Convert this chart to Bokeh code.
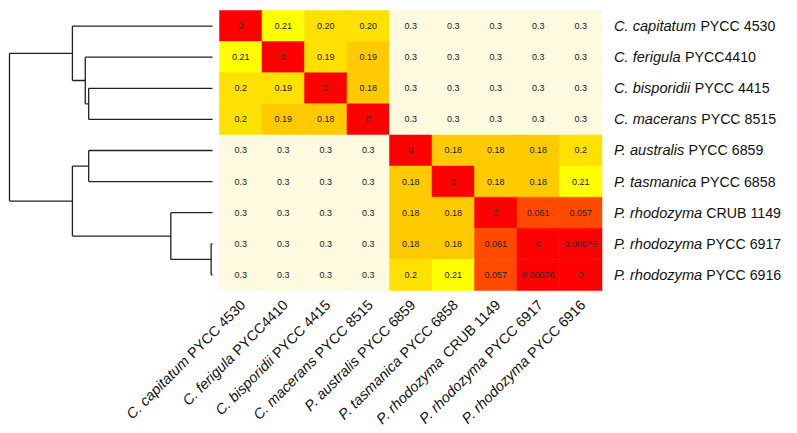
import math
from bokeh.plotting import figure
from bokeh.models import ColumnDataSource, Range1d, LinearColorMapper
from bokeh.transform import transform
from bokeh.core.properties import value
from bokeh.embed import file_html
from bokeh.resources import INLINE

# ---------------- data ----------------
species = ["C. capitatum", "C. ferigula", "C. bisporidii", "C. macerans",
           "P. australis", "P. tasmanica", "P. rhodozyma", "P. rhodozyma", "P. rhodozyma"]
strains = ["PYCC 4530", "PYCC4410", "PYCC 4415", "PYCC 8515",
           "PYCC 6859", "PYCC 6858", "CRUB 1149", "PYCC 6917", "PYCC 6916"]

distances = [
    [0, 0.21, 0.20, 0.20, 0.3, 0.3, 0.3, 0.3, 0.3],
    [0.21, 0, 0.19, 0.186, 0.3, 0.3, 0.3, 0.3, 0.3],
    [0.20, 0.19, 0, 0.18, 0.3, 0.3, 0.3, 0.3, 0.3],
    [0.20, 0.186, 0.18, 0, 0.3, 0.3, 0.3, 0.3, 0.3],
    [0.3, 0.3, 0.3, 0.3, 0, 0.18, 0.18, 0.18, 0.2],
    [0.3, 0.3, 0.3, 0.3, 0.18, 0, 0.18, 0.18, 0.21],
    [0.3, 0.3, 0.3, 0.3, 0.18, 0.18, 0, 0.061, 0.057],
    [0.3, 0.3, 0.3, 0.3, 0.18, 0.18, 0.061, 0, 0.00076],
    [0.3, 0.3, 0.3, 0.3, 0.2, 0.21, 0.057, 0.00076, 0],
]
cell_labels = [
    ["0", "0.21", "0.20", "0.20", "0.3", "0.3", "0.3", "0.3", "0.3"],
    ["0.21", "0", "0.19", "0.19", "0.3", "0.3", "0.3", "0.3", "0.3"],
    ["0.2", "0.19", "0", "0.18", "0.3", "0.3", "0.3", "0.3", "0.3"],
    ["0.2", "0.19", "0.18", "0", "0.3", "0.3", "0.3", "0.3", "0.3"],
    ["0.3", "0.3", "0.3", "0.3", "0", "0.18", "0.18", "0.18", "0.2"],
    ["0.3", "0.3", "0.3", "0.3", "0.18", "0", "0.18", "0.18", "0.21"],
    ["0.3", "0.3", "0.3", "0.3", "0.18", "0.18", "0", "0.061", "0.057"],
    ["0.3", "0.3", "0.3", "0.3", "0.18", "0.18", "0.061", "0", "0.00076"],
    ["0.3", "0.3", "0.3", "0.3", "0.2", "0.21", "0.057", "0.00076", "0"],
]

# dendrogram merges (leaves 0..8, new nodes 9..16 in order)
merge_left = [7, 6, 2, 4, 1, 0, 12, 14]
merge_right = [8, 9, 3, 5, 11, 13, 10, 15]
merge_height = [0.002, 0.0616, 0.183, 0.183, 0.188, 0.207, 0.207, 0.300]

# ---------------- style ----------------
palette = ["#FF0000", "#FF1700", "#FF2E00", "#FF4A00", "#FF5D00", "#FF7400",
           "#FF8B00", "#FFA200", "#FFB900", "#FFCB00", "#FFE100", "#FFFF00",
           "#FFFF20", "#FFFF60", "#FFFF9F", "#FDFAE0"]
FONT = "Liberation Sans"
IT_SIZE = 14.6
NO_SIZE = 14.2
CW = {" ": 278, ".": 278, "C": 722, "P": 667, "Y": 667, "R": 722, "U": 722, "B": 667,
      "a": 556, "b": 556, "c": 500, "d": 556, "e": 556, "f": 278, "g": 556, "h": 556,
      "i": 222, "j": 222, "k": 500, "l": 222, "m": 833, "n": 556, "o": 556, "p": 556,
      "q": 556, "r": 333, "s": 500, "t": 278, "u": 556, "v": 500, "w": 722, "x": 500,
      "y": 500, "z": 500}
KERN = {"P.": -152}


def tw(s, size):
    w = sum(CW.get(ch, 556) for ch in s)
    w += sum(KERN.get(s[i:i + 2], 0) for i in range(len(s) - 1))
    return w * size / 1000.0


n = len(species)

p = figure(width=797, height=433, output_backend="svg", toolbar_location=None,
           x_range=Range1d(-5.6529, 13.1), y_range=Range1d(13.0964, -0.8214),
           x_axis_location=None, y_axis_location=None,
           min_border=0, min_border_left=0, min_border_right=0,
           min_border_top=0, min_border_bottom=0)
p.extra_x_ranges = {"dend": Range1d(0.31328, -0.86449)}
p.grid.visible = False
p.outline_line_color = None
p.background_fill_color = "white"
p.border_fill_color = "white"

# ---------------- heatmap ----------------
cols, rows, vals, labs = [], [], [], []
for i in range(n):
    for j in range(n):
        rows.append(i)
        cols.append(j)
        vals.append(distances[i][j])
        labs.append(cell_labels[i][j])
src = ColumnDataSource(dict(col=cols, row=rows, v=vals, lab=labs))
mapper = LinearColorMapper(palette=palette, low=0, high=0.3)
p.rect(x="col", y="row", width=1, height=1, source=src,
       fill_color=transform("v", mapper), line_color=transform("v", mapper), line_width=0.5)
p.text(x="col", y="row", text="lab", source=src, text_align="center",
       text_baseline="middle", text_font=value(FONT), text_font_size="9px",
       text_color="#222222")

# ---------------- dendrogram ----------------
ypos = {k: float(k) for k in range(n)}
hgt = {k: 0.0 for k in range(n)}
x0s, y0s, x1s, y1s = [], [], [], []
for k, (a, b, h) in enumerate(zip(merge_left, merge_right, merge_height)):
    node = n + k
    x0s += [h, hgt[a], hgt[b]]
    y0s += [ypos[a], ypos[a], ypos[b]]
    x1s += [h, h, h]
    y1s += [ypos[b], ypos[a], ypos[b]]
    ypos[node] = (ypos[a] + ypos[b]) / 2.0
    hgt[node] = h
p.segment(x0=x0s, y0=y0s, x1=x1s, y1=y1s, x_range_name="dend",
          line_color="#222222", line_width=1.3)

# ---------------- row labels (right) ----------------
edge = n - 0.5
row_idx = list(range(n))
ital_w = [tw(s, IT_SIZE) + tw(" ", NO_SIZE) + 0.5 for s in species]
p.text(x=[edge] * n, y=row_idx, text=species, x_offset=12, text_align="left",
       text_baseline="middle", text_font=value(FONT), text_font_size=f"{IT_SIZE}px",
       text_font_style="italic", text_color="#111111")
p.text(x=[edge] * n, y=row_idx, text=strains, x_offset=[12 + w for w in ital_w],
       text_align="left", text_baseline="middle", text_font=value(FONT),
       text_font_size=f"{NO_SIZE}px", text_color="#111111")

# ---------------- column labels (bottom, 45 deg) ----------------
ang = math.pi / 4
dx0, dy0 = 2, 12
norm_w = [tw(s, NO_SIZE) + tw(" ", NO_SIZE) + 0.5 for s in strains]
p.text(x=row_idx, y=[edge] * n, text=strains, x_offset=dx0, y_offset=dy0, angle=ang,
       text_align="right", text_baseline="middle", text_font=value(FONT),
       text_font_size=f"{NO_SIZE}px", text_color="#111111")
p.text(x=row_idx, y=[edge] * n, text=species,
       x_offset=[dx0 - w * math.cos(ang) for w in norm_w],
       y_offset=[dy0 + w * math.sin(ang) for w in norm_w], angle=ang,
       text_align="right", text_baseline="middle", text_font=value(FONT),
       text_font_size=f"{IT_SIZE}px", text_font_style="italic", text_color="#111111")

open("out.html", "w").write(file_html(p, INLINE))
